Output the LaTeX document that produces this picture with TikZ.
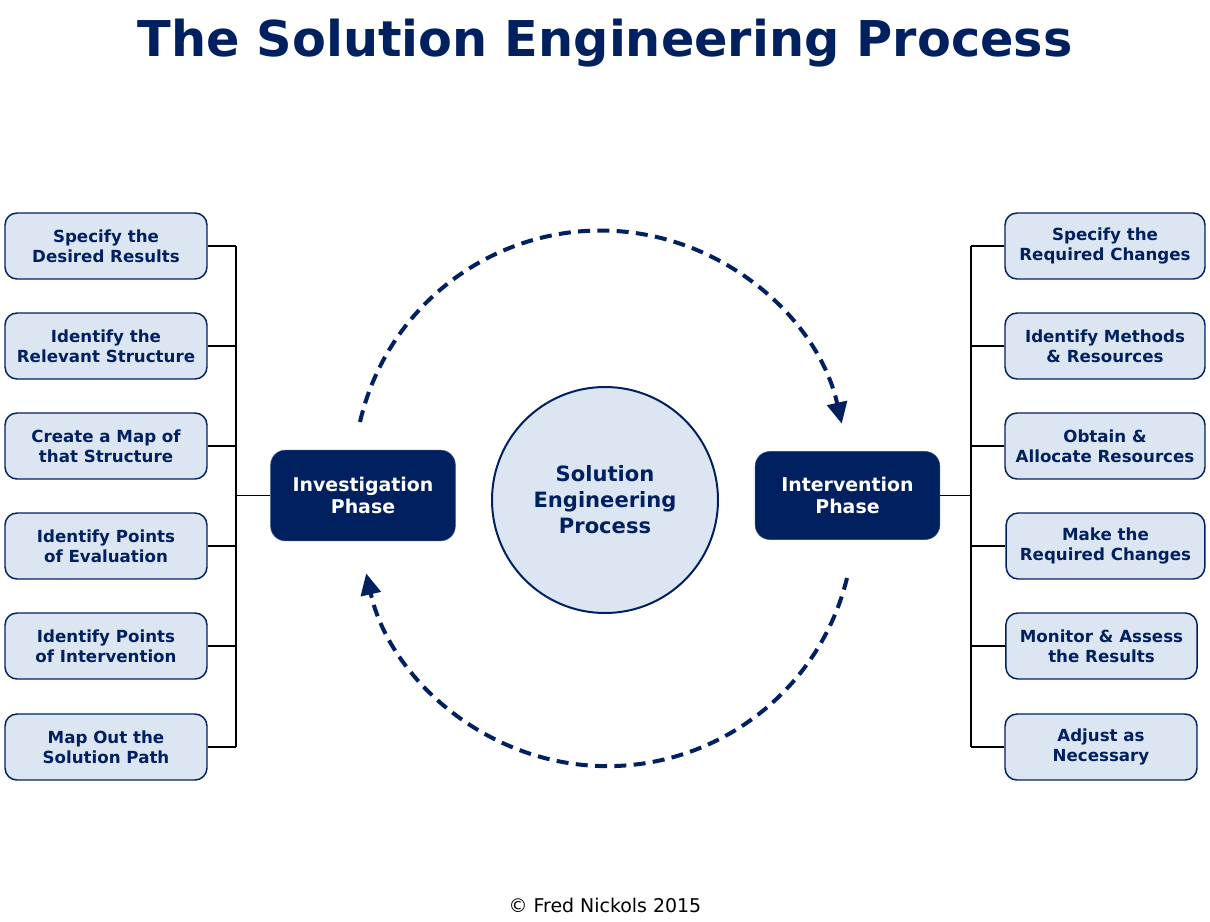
\documentclass[tikz,border=0pt]{standalone}
\usepackage{fontspec}
\setmainfont{DejaVu Sans}
\usepackage{xcolor}
\usepackage{tikz}
\usetikzlibrary{arrows.meta}
\definecolor{navy}{HTML}{002060}
\definecolor{paleblue}{HTML}{DCE6F2}

\begin{document}
\begin{tikzpicture}[x=0.75pt, y=-0.75pt,
		taskbox/.style={
			rectangle, rounded corners=9pt, fill=paleblue, draw=navy, line width=1.1pt,
			minimum height=49.5pt, align=center, text=navy,
			font=\bfseries\fontsize{12.5}{15}\selectfont
		},
		phasebox/.style={
			rectangle, rounded corners=11pt, fill=navy, draw=navy!80,
			minimum width=138.5pt, minimum height=68pt, align=center, text=white,
			font=\bfseries\fontsize{14.2}{17}\selectfont
		},
		link/.style={draw=black, line width=1pt},
		cycle/.style={draw=navy, line width=3pt, dash pattern=on 9pt off 5.5pt,
			-{Triangle[length=16pt, width=15pt]}}
	]
		\fill[white] (0,0) rectangle (1210,921);
		\useasboundingbox (0,0) rectangle (1210,921);

		\node[anchor=base, text=navy, font=\bfseries\fontsize{37}{44}\selectfont] (title) at (605,56)
		{The Solution Engineering Process};

		\node[
			circle, fill=paleblue, draw=navy, line width=1.5pt, minimum size=169.5pt,
			align=center, text=navy, font=\bfseries\fontsize{15.8}{19.5}\selectfont
		] (SEP) at (605,500) {Solution\\Engineering\\Process};

		\node[phasebox] (Inv) at (363,495.5) {Investigation\\Phase};
		\node[phasebox, minimum height=66pt] (Int) at (847.5,495.5) {Intervention\\Phase};

		% investigation steps
		\foreach \i/\y/\txt in {
				1/246/{Specify the\\Desired Results},
				2/346/{Identify the\\Relevant Structure},
				3/446/{Create a Map of\\that Structure},
				4/546/{Identify Points\\of Evaluation},
				5/646/{Identify Points\\of Intervention},
				6/747/{Map Out the\\Solution Path}} {
				\node[taskbox, minimum width=151.5pt] (L\i) at (106,\y) {\txt};
			}

		% intervention steps
		\foreach \i/\x/\y/\w/\txt in {
				1/1105/246/150/{Specify the\\Required Changes},
				2/1105/346/150/{Identify Methods\\\& Resources},
				3/1105/446/150/{Obtain \&\\Allocate Resources},
				4/1105.5/546/149/{Make the\\Required Changes},
				5/1101.5/646/143.5/{Monitor \& Assess\\the Results},
				6/1101/747/144/{Adjust as\\Necessary}} {
				\node[taskbox, minimum width=\w pt] (R\i) at (\x,\y) {\txt};
			}

		\coordinate (Lbus) at (236,495.5);
		\coordinate (Rbus) at (971,495.5);

		\draw[link] (Inv.west) -- (Inv.west -| Lbus);
		\draw[link] (L1.east -| Lbus) -- (L6.east -| Lbus);
		\draw[link] (Int.east) -- (Int.east -| Rbus);
		\draw[link] (R1.west -| Rbus) -- (R6.west -| Rbus);
		\foreach \i in {1,...,6} {
				\draw[link] (L\i.east) -- (L\i.east -| Lbus);
				\draw[link] (R\i.west) -- (R\i.west -| Rbus);
			}

		% the cycle between the two phases
		\coordinate (topS) at (360,422);
		\coordinate (botS) at (847,578);
		\draw[cycle] (topS) arc[start angle=-167, end angle=-12.6, radius=247];
		\draw[cycle] (botS) arc[start angle=13.8, end angle=167.3, radius=247];

		\node[font=\fontsize{14.2}{17}\selectfont] (credit) at (605,905) {© Fred Nickols 2015};
	\end{tikzpicture}
\end{document}
